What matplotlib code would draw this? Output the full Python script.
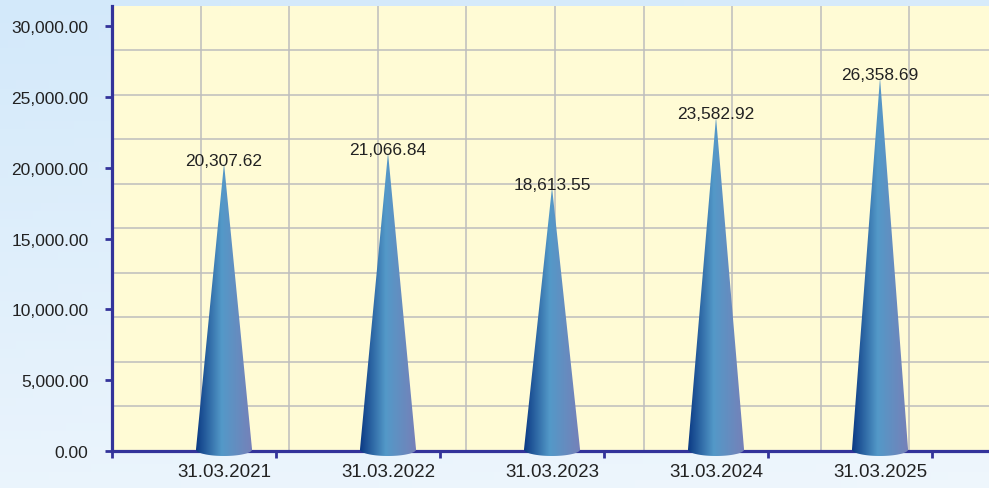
import numpy as np
import matplotlib
matplotlib.use('Agg')
import matplotlib.pyplot as plt
from matplotlib.patches import Polygon
from matplotlib.colors import LinearSegmentedColormap, to_rgb

dates = ['31.03.2021', '31.03.2022', '31.03.2023', '31.03.2024', '31.03.2025']
values = [20307.62, 21066.84, 18613.55, 23582.92, 26358.69]
yticks = [0, 5000, 10000, 15000, 20000, 25000, 30000]

plt.rcParams['font.family'] = ['Liberation Sans', 'DejaVu Sans']
axis_col = '#33339a'
txt_col = '#222222'

fig = plt.figure(figsize=(9.89, 4.89), dpi=100)

# light blue background gradient
bg = fig.add_axes([0, 0, 1, 1], zorder=-10)
bg.axis('off')
gy, gx = np.mgrid[0:1:60j, 0:1:120j]
top_c = np.array(to_rgb('#d3e9fa'))
bot_c = np.array(to_rgb('#f0f7fd'))
t = np.clip(gy * 0.8 + gx * 0.15, 0, 1)
img = top_c[None, None, :] * (1 - t[..., None]) + bot_c[None, None, :] * t[..., None]
bg.imshow(img, extent=[0, 1, 0, 1], aspect='auto', origin='upper')
bg.set_xlim(0, 1)
bg.set_ylim(0, 1)

W, H = 989, 489
left_px, right_px, top_px, bot_px = 112, 998, 6.5, 452
ax = fig.add_axes([left_px / W, (H - bot_px) / H, (right_px - left_px) / W, (bot_px - top_px) / H])
ax.set_facecolor('#fffbd5')

xmin = -0.683
xmax = xmin + (right_px - left_px) / 164
ymax = 31450
ax.set_xlim(xmin, xmax)
ax.set_ylim(0, ymax)

for gxp in np.linspace(xmin, xmax, 11)[1:-1]:
    ax.axvline(gxp, color='#bdbdbd', lw=1.1, zorder=1)
for gyp in np.linspace(0, ymax, 11)[1:-1]:
    ax.axhline(gyp, color='#bdbdbd', lw=1.1, zorder=1)

for s in ['top', 'right']:
    ax.spines[s].set_visible(False)
for s in ['left', 'bottom']:
    ax.spines[s].set_color(axis_col)
    ax.spines[s].set_linewidth(2.3)

ax.set_yticks(yticks)
ax.set_yticklabels([f'{y:,.2f}' for y in yticks])
ax.tick_params(axis='y', direction='out', length=5, width=2, color=axis_col,
               labelsize=12.5, labelcolor=txt_col, pad=12)

ax.set_xticks(np.arange(-1, 5) + 0.317)
ax.set_xticklabels([])
ax.tick_params(axis='x', which='major', direction='out', length=5, width=2, color=axis_col)
ax.set_xticks(range(len(dates)), minor=True)
ax.set_xticklabels(dates, minor=True)
ax.tick_params(axis='x', which='minor', length=0, labelsize=13.5, labelcolor=txt_col, pad=9)

# overlay axes for the cones, reaching a little below the x axis
ext_px = 12
ov = fig.add_axes([left_px / W, (H - bot_px - ext_px) / H, (right_px - left_px) / W,
                   (bot_px + ext_px - top_px) / H], zorder=5)
ov.axis('off')
ov.patch.set_alpha(0)
units_px = ymax / (bot_px - top_px)
ov_ymin = -ext_px * units_px
ov.set_xlim(xmin, xmax)
ov.set_ylim(ov_ymin, ymax)

cmap = LinearSegmentedColormap.from_list('cone', [(0, '#0b3a84'), (0.45, '#5399c8'), (1, '#7780b8')])
grad = np.linspace(0, 1, 256)[None, :]
hw = 0.171
base = 1.5 * units_px
depth = 6.5 * units_px
ang = np.linspace(np.pi, 2 * np.pi, 60)
for i, v in enumerate(values):
    arc = [(i + hw * np.cos(a), base + depth * np.sin(a)) for a in ang]
    verts = arc + [(i, v)]
    cone = Polygon(verts, closed=True, transform=ov.transData)
    im = ov.imshow(grad, cmap=cmap, extent=[i - hw, i + hw, ov_ymin, v],
                   aspect='auto', interpolation='bilinear')
    im.set_clip_path(cone)
    ov.annotate(f'{v:,.2f}', (i, v), xytext=(0, -1), textcoords='offset points',
                ha='center', va='baseline', fontsize=12.5, color=txt_col)

ov.set_xlim(xmin, xmax)
ov.set_ylim(ov_ymin, ymax)

fig.savefig('out.png', dpi=100)
